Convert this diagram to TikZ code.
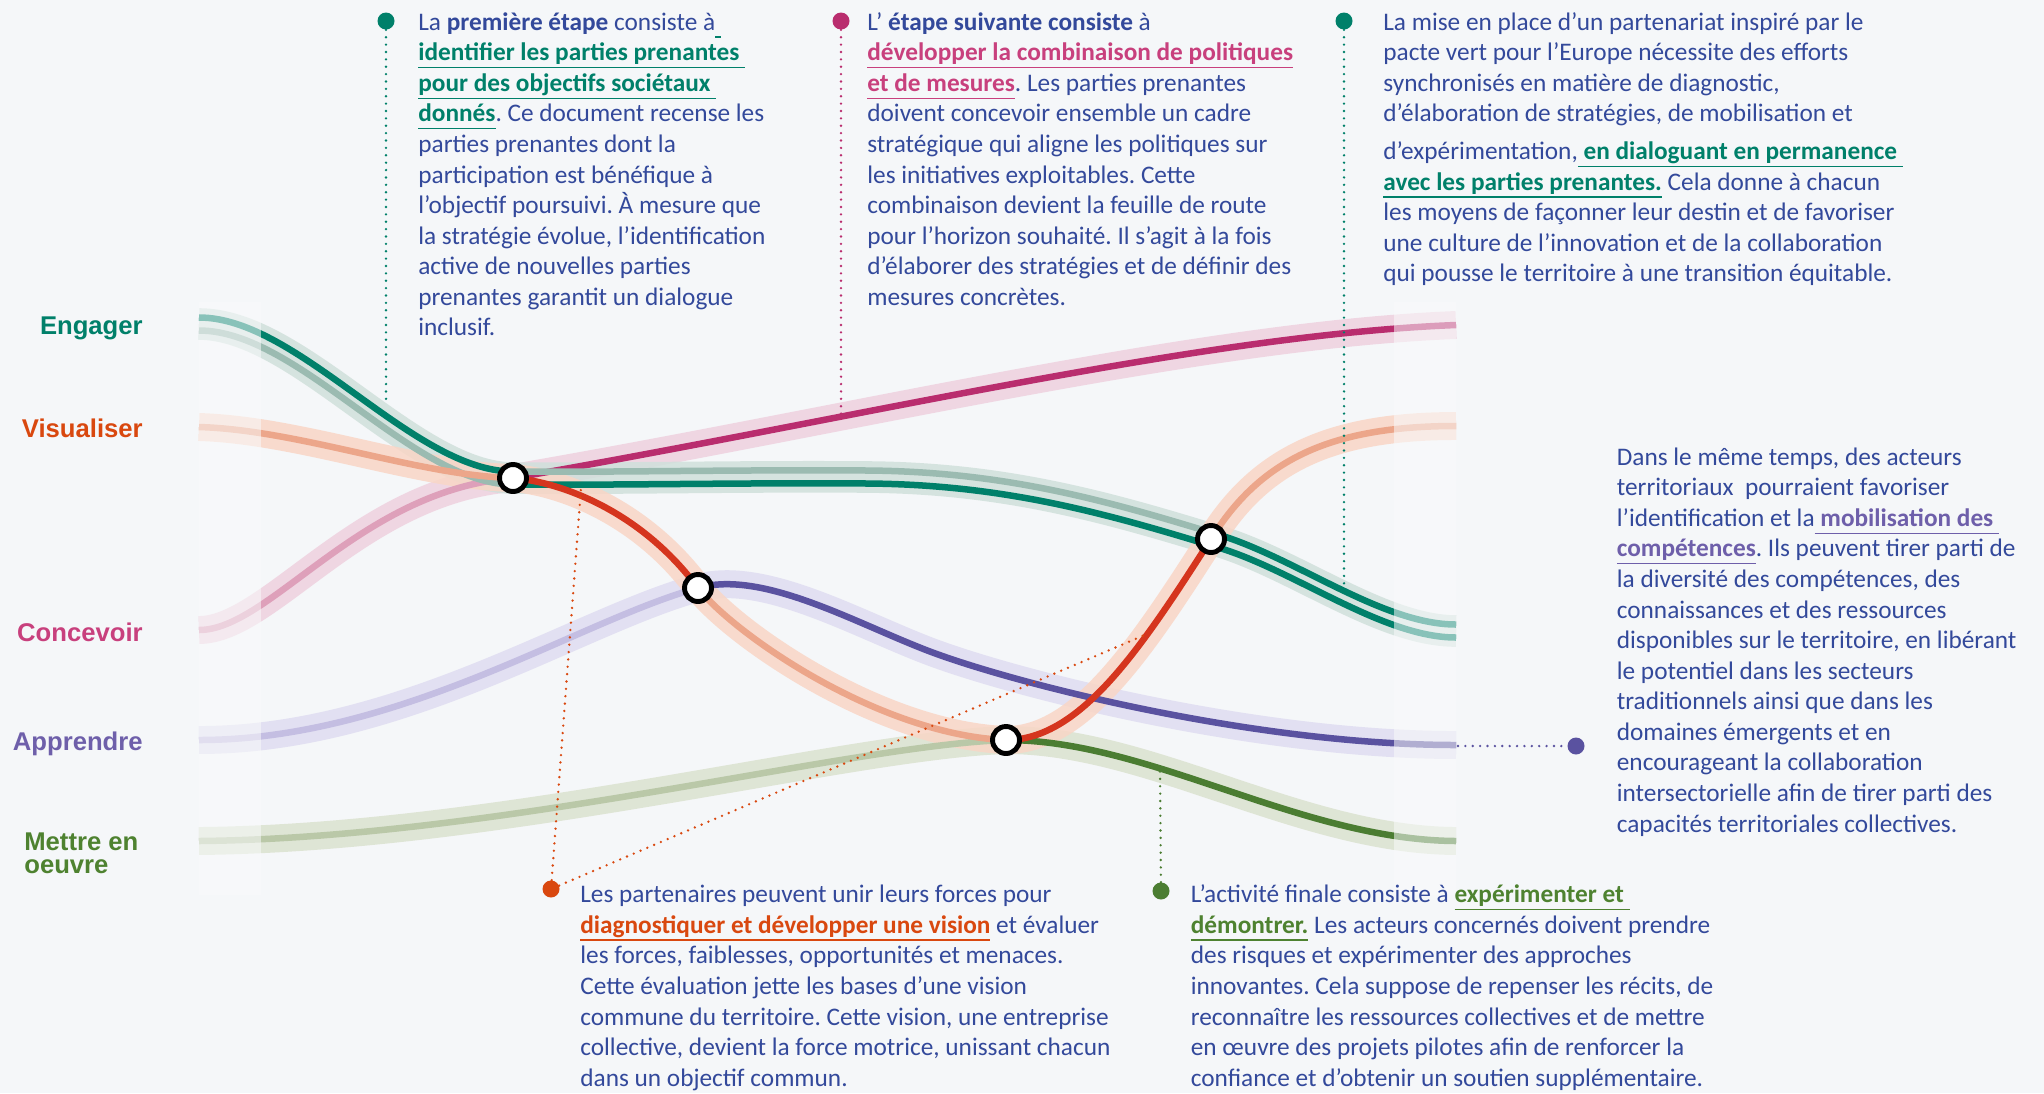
\documentclass[tikz,border=0pt]{standalone}
\usepackage{fontspec}
\setmainfont{Carlito}
\newfontfamily\tagfont{Liberation Sans}
\usetikzlibrary{positioning}
\frenchspacing

% palette
\definecolor{paper}{RGB}{245,247,249}
\definecolor{ink}{RGB}{51,73,155}
\definecolor{engage}{RGB}{0,128,106}
\definecolor{engagepale}{RGB}{155,187,177}
\definecolor{engagehalo}{RGB}{208,224,219}
\definecolor{visu}{RGB}{213,53,30}
\definecolor{visupale}{RGB}{236,166,138}
\definecolor{visuhalo}{RGB}{249,214,198}
\definecolor{visutext}{RGB}{217,72,15}
\definecolor{conc}{RGB}{185,45,110}
\definecolor{concpale}{RGB}{222,160,186}
\definecolor{conchalo}{RGB}{239,209,223}
\definecolor{conctext}{RGB}{200,64,125}
\definecolor{appr}{RGB}{90,82,160}
\definecolor{apprpale}{RGB}{196,190,226}
\definecolor{apprhalo}{RGB}{223,220,241}
\definecolor{apprtext}{RGB}{110,95,170}
\definecolor{mett}{RGB}{75,125,50}
\definecolor{mettpale}{RGB}{186,200,168}
\definecolor{metthalo}{RGB}{219,226,207}
\definecolor{metttext}{RGB}{78,130,48}

\newcommand{\notesize}{\fontsize{14.4}{17.4}\selectfont}
\newsavebox{\keybox}
% coloured key phrase with its underline
\newcommand{\keyphrase}[2]{\sbox{\keybox}{\color{#1}\bfseries #2}\textcolor{#1}{\rlap{\rule[-4.2pt]{\wd\keybox}{0.7pt}}}\usebox{\keybox}}

\begin{document}
\begin{tikzpicture}[x=0.02cm, y=-0.02cm,
    halo/.style={draw=#1, line width=15.9pt, opacity=0.85},
    core/.style={draw=#1, line width=3.7pt},
    hub/.style={circle, draw=black, fill=white, line width=2.8pt, minimum size=0.54cm, inner sep=0pt},
    leader/.style={draw=#1, line width=1.5pt, dash pattern=on 0pt off 4.2pt, line cap=round},
    dot/.style={circle, fill=#1, inner sep=0pt, minimum size=0.34cm},
    note/.style={anchor=north west, align=left, inner sep=0pt, text=ink, font=\notesize},
    tag/.style={anchor=base east, inner sep=0pt, text=#1, font=\tagfont\bfseries\fontsize{14.6}{13}\selectfont},
    fade/.style={fill=paper!60!white, opacity=0.55}]

  % page
  \path[use as bounding box] (0,0) rectangle (2044,1093);
  \clip (0,0) rectangle (2044,1093);
  \fill[paper] (0,0) rectangle (2044,1093);

  % ends of the strands and the crossings
  \coordinate (e0) at (199,324);  \coordinate (e1) at (1456,631);
  \coordinate (v0) at (199,427);  \coordinate (v1) at (1456,426);
  \coordinate (k0) at (199,630);  \coordinate (k1) at (1456,325);
  \coordinate (a0) at (199,740);  \coordinate (a1) at (1456,745);
  \coordinate (m0) at (199,841);  \coordinate (m1) at (1456,841);
  \coordinate (e2) at (867,477);
  \coordinate (a2) at (921,648);
  \coordinate (c1) at (513,478);
  \coordinate (c2) at (698,588);
  \coordinate (c3) at (1006,740);
  \coordinate (c4) at (1211,539);

  % halos
  \draw[halo=conchalo] (k0) .. controls (270,630) and (360,490) .. (c1) .. controls (850,420) and (1200,335) .. (k1);
  \draw[halo=apprhalo] (a0) .. controls (400,740) and (580,620) .. (c2) .. controls (760,570) and (850,620) .. (a2) .. controls (1000,680) and (1250,745) .. (a1);
  \draw[halo=metthalo] (m0) .. controls (500,838) and (850,745) .. (c3) .. controls (1150,740) and (1300,840) .. (m1);
  \draw[halo=engagehalo, line width=18pt] (e0) .. controls (299,324) and (413,478) .. (c1) .. controls (600,479) and (750,476) .. (e2) .. controls (1000,478) and (1100,505) .. (c4) .. controls (1290,560) and (1380,631) .. (e1);
  \draw[halo=visuhalo] (v0) .. controls (300,430) and (420,476) .. (c1) .. controls (560,482) and (640,510) .. (c2) .. controls (735,635) and (880,735) .. (c3) .. controls (1080,740) and (1140,650) .. (c4) .. controls (1260,460) and (1330,426) .. (v1);

  % Concevoir
  \draw[core=concpale] (k0) .. controls (270,630) and (360,490) .. (c1);
  \draw[core=conc] (c1) .. controls (850,420) and (1200,335) .. (k1);
  % Apprendre
  \draw[core=apprpale] (a0) .. controls (400,740) and (580,620) .. (c2);
  \draw[core=appr] (c2) .. controls (760,570) and (850,620) .. (a2) .. controls (1000,680) and (1250,745) .. (a1);
  % Mettre en oeuvre
  \draw[core=mettpale] (m0) .. controls (500,838) and (850,745) .. (c3);
  \draw[core=mett] (c3) .. controls (1150,740) and (1300,840) .. (m1);
  % Engager, upper strand
  \begin{scope}[transform canvas={yshift=0.13cm}]
    \draw[core=engage] (e0) .. controls (299,324) and (413,478) .. (c1);
    \draw[core=engagepale] (c1) .. controls (600,479) and (750,476) .. (e2) .. controls (1000,478) and (1100,505) .. (c4);
    \draw[core=engage] (c4) .. controls (1290,560) and (1380,631) .. (e1);
  \end{scope}
  % Engager, lower strand
  \begin{scope}[transform canvas={yshift=-0.13cm}]
    \draw[core=engagepale] (e0) .. controls (299,324) and (413,478) .. (c1);
    \draw[core=engage] (c1) .. controls (600,479) and (750,476) .. (e2) .. controls (1000,478) and (1100,505) .. (c4) .. controls (1290,560) and (1380,631) .. (e1);
  \end{scope}
  % Visualiser
  \draw[core=visupale] (v0) .. controls (300,430) and (420,476) .. (c1);
  \draw[core=visu] (c1) .. controls (560,482) and (640,510) .. (c2);
  \draw[core=visupale] (c2) .. controls (735,635) and (880,735) .. (c3);
  \draw[core=visu] (c3) .. controls (1080,740) and (1140,650) .. (c4);
  \draw[core=visupale] (c4) .. controls (1260,460) and (1330,426) .. (v1);

  % faded ends
  \fill[fade] (199,302) rectangle (261,895);
  \fill[fade] (1394,302) rectangle (1456,895);

  % crossings
  \node[hub] (h1) at (c1) {};
  \node[hub] (h2) at (c2) {};
  \node[hub] (h3) at (c3) {};
  \node[hub] (h4) at (c4) {};

  % stage labels
  \node[tag=engage] (lEngager) at (143,334.5) {Engager};
  \node[tag=visutext] (lVisualiser) at (143,437) {Visualiser};
  \node[tag=conctext] (lConcevoir) at (143,641) {Concevoir};
  \node[tag=apprtext] (lApprendre) at (143,750) {Apprendre};
  \node[tag=metttext, anchor=north west, align=left] (lMettre) at (24,832.6) {Mettre en\\oeuvre};

  % leaders
  \node[dot=engage] (d1) at (386,21) {};
  \node[dot=conc] (d2) at (841,21) {};
  \node[dot=engage] (d3) at (1344,21) {};
  \node[dot=appr] (d4) at (1576,746) {};
  \node[dot=visutext] (d5) at (551,889) {};
  \node[dot=mett] (d6) at (1161,891) {};
  \coordinate (t1) at (386,402);
  \coordinate (t2) at (841,414);
  \coordinate (t3) at (1344,593);
  \coordinate (t4) at (1458,746);
  \coordinate (t5) at (581,488);
  \coordinate (t6) at (1147,634);
  \coordinate (t7) at (1160,768);
  \draw[leader=engage] (d1) -- (t1);
  \draw[leader=conc] (d2) -- (t2);
  \draw[leader=engage] (d3) -- (t3);
  \draw[leader=appr] (t4) -- (d4);
  \draw[leader=visutext] (d5) -- (t5);
  \draw[leader=visutext] (d5) -- (t6);
  \draw[leader=mett] (d6) -- (t7);

  % notes
  \node[note] (nEngager) at (418,8.5) {\strut La \textbf{première étape} consiste à\keyphrase{engage}{\ }\\
    \keyphrase{engage}{identifier les parties prenantes\ }\\
    \keyphrase{engage}{pour des objectifs sociétaux\ }\\
    \keyphrase{engage}{donnés}. Ce document recense les\\
    parties prenantes dont la\\
    participation est bénéfique à\\
    l’objectif poursuivi. À mesure que\\
    la stratégie évolue, l’identification\\
    active de nouvelles parties\\
    prenantes garantit un dialogue\\
    inclusif.};
  \node[note] (nConcevoir) at (867,8.5) {\strut L’ \textbf{étape suivante consiste} à\\
    \keyphrase{conctext}{développer la combinaison de politiques}\\
    \keyphrase{conctext}{et de mesures}. Les parties prenantes\\
    doivent concevoir ensemble un cadre\\
    stratégique qui aligne les politiques sur\\
    les initiatives exploitables. Cette\\
    combinaison devient la feuille de route\\
    pour l’horizon souhaité. Il s’agit à la fois\\
    d’élaborer des stratégies et de définir des\\
    mesures concrètes.};
  \node[note] (nPacte) at (1383,8.5) {\strut La mise en place d’un partenariat inspiré par le\\
    pacte vert pour l’Europe nécessite des efforts\\
    synchronisés en matière de diagnostic,\\
    d’élaboration de stratégies, de mobilisation et\\[4pt]
    d’expérimentation,\keyphrase{engage}{\ en dialoguant en permanence\ }\\
    \keyphrase{engage}{avec les parties prenantes.} Cela donne à chacun\\
    les moyens de façonner leur destin et de favoriser\\
    une culture de l’innovation et de la collaboration\\
    qui pousse le territoire à une transition équitable.};
  \node[note] (nApprendre) at (1616.5,443.5) {\strut Dans le même temps, des acteurs\\
    territoriaux\ \ pourraient favoriser\\
    l’identification et la\keyphrase{apprtext}{\ mobilisation des\ }\\
    \keyphrase{apprtext}{compétences}. Ils peuvent tirer parti de\\
    la diversité des compétences, des\\
    connaissances et des ressources\\
    disponibles sur le territoire, en libérant\\
    le potentiel dans les secteurs\\
    traditionnels ainsi que dans les\\
    domaines émergents et en\\
    encourageant la collaboration\\
    intersectorielle afin de tirer parti des\\
    capacités territoriales collectives.};
  \node[note] (nVisualiser) at (580,881) {\strut Les partenaires peuvent unir leurs forces pour\\
    \keyphrase{visutext}{diagnostiquer et développer une vision} et évaluer\\
    les forces, faiblesses, opportunités et menaces.\\
    Cette évaluation jette les bases d’une vision\\
    commune du territoire. Cette vision, une entreprise\\
    collective, devient la force motrice, unissant chacun\\
    dans un objectif commun.};
  \node[note] (nMettre) at (1190.5,881) {\strut L’activité finale consiste à \keyphrase{metttext}{expérimenter et\ }\\
    \keyphrase{metttext}{démontrer.} Les acteurs concernés doivent prendre\\
    des risques et expérimenter des approches\\
    innovantes. Cela suppose de repenser les récits, de\\
    reconnaître les ressources collectives et de mettre\\
    en œuvre des projets pilotes afin de renforcer la\\
    confiance et d’obtenir un soutien supplémentaire.};
\end{tikzpicture}
\end{document}
